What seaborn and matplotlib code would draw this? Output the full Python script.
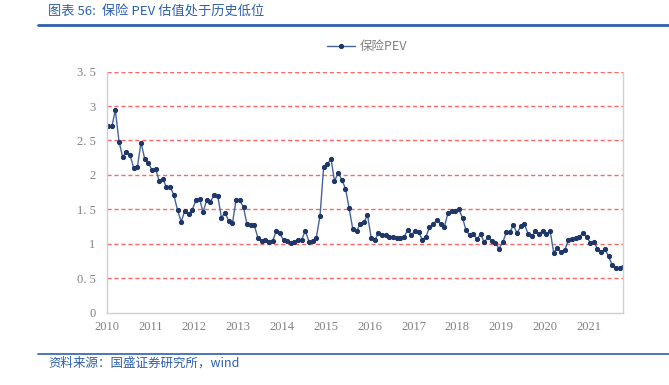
import matplotlib
matplotlib.use("Agg")
import matplotlib.pyplot as plt
import seaborn as sns
import pandas as pd

# 保险PEV, monthly from 2010-01 to 2021-10
pev = [
    2.71, 2.71, 2.94, 2.48, 2.26, 2.33, 2.29, 2.10, 2.12, 2.47, 2.23, 2.17,
    2.07, 2.08, 1.91, 1.94, 1.82, 1.82, 1.71, 1.49, 1.32, 1.48, 1.43, 1.49,
    1.63, 1.65, 1.46, 1.64, 1.61, 1.71, 1.70, 1.38, 1.45, 1.33, 1.30, 1.64,
    1.63, 1.53, 1.29, 1.27, 1.27, 1.09, 1.04, 1.06, 1.03, 1.04, 1.18, 1.15,
    1.05, 1.04, 1.01, 1.03, 1.05, 1.06, 1.19, 1.03, 1.04, 1.09, 1.41, 2.12,
    2.16, 2.23, 1.91, 2.03, 1.93, 1.80, 1.52, 1.21, 1.18, 1.29, 1.31, 1.42,
    1.09, 1.06, 1.15, 1.12, 1.13, 1.10, 1.10, 1.08, 1.08, 1.10, 1.20, 1.13,
    1.19, 1.17, 1.06, 1.10, 1.24, 1.29, 1.34, 1.29, 1.24, 1.44, 1.48, 1.48,
    1.50, 1.37, 1.20, 1.12, 1.14, 1.07, 1.14, 1.02, 1.10, 1.04, 1.01, 0.93,
    1.02, 1.17, 1.17, 1.27, 1.15, 1.26, 1.29, 1.14, 1.11, 1.18, 1.14, 1.19,
    1.14, 1.18, 0.87, 0.94, 0.88, 0.91, 1.05, 1.07, 1.08, 1.10, 1.16, 1.10,
    1.01, 1.03, 0.92, 0.88, 0.92, 0.82, 0.69, 0.65, 0.65, 0.66,
]
years = list(range(2010, 2022))
y_ticks = [0, 0.5, 1, 1.5, 2, 2.5, 3, 3.5]
y_labels = ["0", "0. 5", "1", "1. 5", "2", "2. 5", "3", "3. 5"]

dates = pd.date_range("2010-01-01", periods=len(pev), freq="MS") + pd.Timedelta(days=13)
df = pd.DataFrame({"date": dates, "保险PEV": pev})

sns.set_style("white")
plt.rcParams["font.family"] = ["Noto Sans CJK SC", "DejaVu Sans"]

fig = plt.figure(figsize=(6.69, 3.85), dpi=100)
ax = fig.add_axes([0.1595, 0.188, 0.772, 0.626])

navy = "#1f3768"
sns.lineplot(data=df, x="date", y="保险PEV", ax=ax, color="#45649a", lw=1.0,
             marker="o", markersize=3.0, markerfacecolor=navy,
             markeredgecolor=navy, label="保险PEV")

for v in y_ticks[1:]:
    ax.axhline(v, color="#ff3333", lw=1.0, ls=(0, (3, 2)), alpha=0.75, zorder=0)

ax.set_ylim(0, 3.5)
ax.set_xlim(pd.Timestamp("2010-01-01"), dates[-1])
ax.set_yticks(y_ticks)
ax.set_yticklabels(y_labels)
ax.set_xticks([pd.Timestamp(f"{y}-01-01") for y in years])
ax.set_xticklabels([str(y) for y in years])
ax.set_xlabel("")
ax.set_ylabel("")

for lab in ax.get_xticklabels() + ax.get_yticklabels():
    lab.set_family("Liberation Serif")
    lab.set_color("#808080")
    lab.set_fontsize(9)
ax.tick_params(axis="x", length=3, color="#bfbfbf", width=0.8, pad=3)
ax.tick_params(axis="y", length=0, pad=8)

for s in ["left", "bottom", "right"]:
    ax.spines[s].set_color("#d0d0d0")
    ax.spines[s].set_linewidth(1.0)
ax.spines["top"].set_visible(False)

leg = ax.legend(loc="center", bbox_to_anchor=(0.549, 0.878),
                bbox_transform=fig.transFigure, frameon=False,
                fontsize=9, handlelength=2.2, handletextpad=0.4)
for t in leg.get_texts():
    t.set_color("#808080")

blue = "#2e5fae"
fig.text(0.072, 0.968, "图表 56:  保险 PEV 估值处于历史低位", color=blue,
         fontsize=9.5, fontstyle="italic", va="center", ha="left")
fig.add_artist(plt.Line2D([0.057, 1.0], [0.935, 0.935], color=blue, lw=2,
                          transform=fig.transFigure))
fig.add_artist(plt.Line2D([0.057, 1.0], [0.081, 0.081], color=blue, lw=1.2,
                          transform=fig.transFigure))
fig.text(0.072, 0.058, "资料来源：国盛证券研究所，wind", color=blue,
         fontsize=9, fontstyle="italic", va="center", ha="left")

fig.savefig("out.png", dpi=100)
